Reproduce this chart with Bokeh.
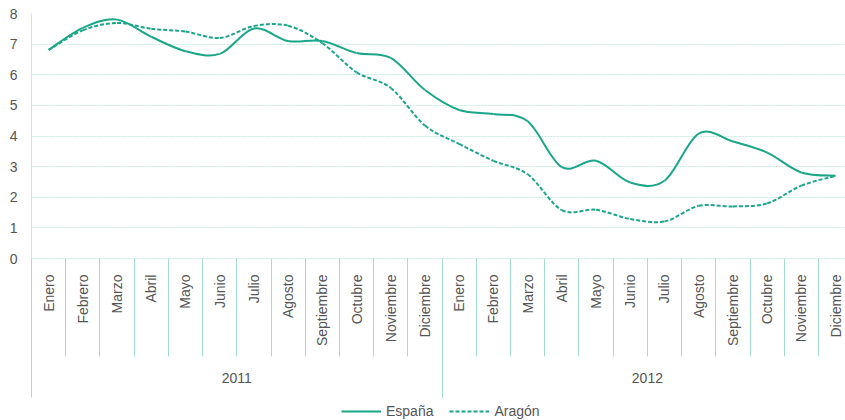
import numpy as np
from bokeh.plotting import figure
from bokeh.layouts import column
from bokeh.models import (Range1d, LinearAxis, FixedTicker, Legend, LegendItem,
                          ColumnDataSource)
from bokeh.embed import file_html
from bokeh.resources import INLINE

# ---------------- data ----------------
years = ["2011", "2012"]
months = ["Enero", "Febrero", "Marzo", "Abril", "Mayo", "Junio", "Julio",
          "Agosto", "Septiembre", "Octubre", "Noviembre", "Diciembre"]
espana = [6.81, 7.53, 7.80, 7.24, 6.77, 6.68, 7.51, 7.10, 7.10, 6.71, 6.55, 5.50,
          4.85, 4.72, 4.48, 2.98, 3.19, 2.48, 2.54, 4.08, 3.82, 3.46, 2.81, 2.70]
aragon = [6.81, 7.45, 7.69, 7.50, 7.41, 7.20, 7.59, 7.60, 7.03, 6.08, 5.57, 4.34,
          3.74, 3.19, 2.75, 1.58, 1.59, 1.29, 1.21, 1.72, 1.70, 1.80, 2.38, 2.70]
y_ticks = [0, 1, 2, 3, 4, 5, 6, 7, 8]
series_names = ["España", "Aragón"]

LINE = "#1ba68a"
GRID = "#c4eadf"
SEP = "#a3dfcf"
TXT = "#555555"
FONT = "Liberation Sans"

categories = [(y, m) for y in years for m in months]
n = len(categories)
xs = [i + 0.5 for i in range(n)]


def bezier_source(x, y):
    x = list(x)
    y = list(y)
    m = len(x)
    d = dict(x0=[], y0=[], x1=[], y1=[], cx0=[], cy0=[], cx1=[], cy1=[])
    for i in range(m - 1):
        a = max(i - 1, 0)
        b = min(i + 2, m - 1)
        d["x0"].append(x[i]); d["y0"].append(y[i])
        d["x1"].append(x[i + 1]); d["y1"].append(y[i + 1])
        d["cx0"].append(x[i] + (x[i + 1] - x[a]) / 6.0)
        d["cy0"].append(y[i] + (y[i + 1] - y[a]) / 6.0)
        d["cx1"].append(x[i + 1] - (x[b] - x[i]) / 6.0)
        d["cy1"].append(y[i + 1] - (y[b] - y[i]) / 6.0)
    return ColumnDataSource(d)


p = figure(width=845, height=400, output_backend="svg", toolbar_location=None,
           x_range=Range1d(0, 23.79), y_range=Range1d(0, 8),
           x_axis_location=None,
           min_border_top=13, min_border_left=31, min_border_right=0,
           min_border_bottom=142)
p.outline_line_color = None
p.background_fill_color = "white"
p.border_fill_color = "white"

# y axis
yax = p.yaxis[0]
yax.ticker = FixedTicker(ticks=y_ticks)
yax.major_tick_out = 0
yax.major_tick_in = 0
yax.minor_tick_out = 0
yax.minor_tick_in = 0
yax.axis_line_color = GRID
yax.major_label_standoff = 14
yax.major_label_text_font = FONT
yax.major_label_text_font_size = "14px"
yax.major_label_text_color = TXT

p.xgrid.visible = False
p.ygrid.ticker = FixedTicker(ticks=y_ticks)
p.ygrid.grid_line_color = GRID
p.ygrid.grid_line_dash = "2 1"

# month axis
month_labels = {float(x): c[1] for x, c in zip(xs, categories)}
ax1 = LinearAxis(ticker=FixedTicker(ticks=xs, minor_ticks=list(range(n + 1))),
                 major_label_overrides=month_labels)
ax1.major_label_orientation = np.pi / 2
ax1.major_tick_out = 0
ax1.major_tick_in = 0
ax1.minor_tick_in = 0
ax1.minor_tick_out = 98
ax1.minor_tick_line_color = SEP
ax1.axis_line_color = GRID
ax1.axis_line_dash = "2 1"
ax1.major_label_standoff = -82
ax1.major_label_text_font = FONT
ax1.major_label_text_font_size = "14px"
ax1.major_label_text_color = TXT
p.add_layout(ax1, "below")

# year axis
k = len(months)
year_centers = [float(np.mean(xs[j * k:(j + 1) * k])) for j in range(len(years))]
year_bounds = [j * k for j in range(len(years) + 1)]
ax2 = LinearAxis(ticker=FixedTicker(ticks=year_centers, minor_ticks=year_bounds),
                 major_label_overrides={c: y for c, y in zip(year_centers, years)})
ax2.major_tick_out = 0
ax2.major_tick_in = 0
ax2.minor_tick_in = 0
ax2.minor_tick_out = 48
ax2.minor_tick_line_color = SEP
ax2.axis_line_color = None
ax2.major_label_standoff = -25
ax2.major_label_text_font = FONT
ax2.major_label_text_font_size = "14px"
ax2.major_label_text_color = TXT
p.add_layout(ax2, "below")

# lines
p.bezier(x0="x0", y0="y0", x1="x1", y1="y1", cx0="cx0", cy0="cy0",
         cx1="cx1", cy1="cy1", source=bezier_source(xs, espana),
         line_color=LINE, line_width=2)
p.bezier(x0="x0", y0="y0", x1="x1", y1="y1", cx0="cx0", cy0="cy0",
         cx1="cx1", cy1="cy1", source=bezier_source(xs, aragon),
         line_color=LINE, line_width=2, line_dash="4 2")

# legend strip (its lines fall outside this strip's visible range)
lg = figure(width=845, height=20, output_backend="svg", toolbar_location=None,
            x_axis_location=None, y_axis_location=None,
            min_border=0, x_range=Range1d(0, 1), y_range=Range1d(-2, -1))
lg.outline_line_color = None
lg.grid.visible = False
l1 = lg.line(x=xs, y=espana, line_color=LINE, line_width=2)
l2 = lg.line(x=xs, y=aragon, line_color=LINE, line_width=2, line_dash="4 2")
legend = Legend(items=[LegendItem(label=series_names[0], renderers=[l1]),
                       LegendItem(label=series_names[1], renderers=[l2])],
                orientation="horizontal", location=(310, -1),
                glyph_width=40, glyph_height=20, label_height=20,
                label_standoff=5, spacing=16, padding=0, margin=0,
                border_line_color=None, background_fill_alpha=0,
                label_text_font=FONT, label_text_font_size="14px",
                label_text_color=TXT)
lg.add_layout(legend, "center")

layout = column(p, lg, spacing=0)
open("out.html", "w").write(file_html(layout, INLINE))
